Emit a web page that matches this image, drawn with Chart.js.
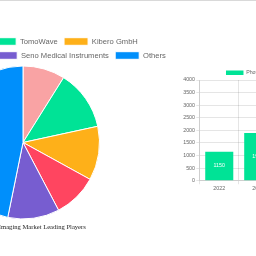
<!DOCTYPE html>
<html>
<head>
<meta charset="utf-8">
<script src="https://cdn.jsdelivr.net/npm/chart.js@4/dist/chart.umd.min.js"></script>
<style>
  html, body { margin: 0; padding: 0; background: #fff; width: 256px; height: 256px; overflow: hidden; position: relative; }
  #topline { position: absolute; left: 0; top: 0; width: 256px; height: 1px; background: #d9d9d9; }
  #pieWrap { position: absolute; left: -142px; top: 0; width: 330px; height: 240px; }
  #barWrap { position: absolute; left: 180px; top: 40px; width: 100px; height: 160px; }
</style>
</head>
<body>
<div id="topline"></div>
<div id="pieWrap"><canvas id="pie" width="330" height="240"></canvas></div>
<div id="barWrap"><canvas id="bar" width="100" height="160"></canvas></div>
<script>
// ---- pie data ----
const playerNames = ["iThera Medical", "TomoWave", "Kibero GmbH", "FUJIFILM VisualSonics", "Seno Medical Instruments", "Others"];
const playerShares = [8.9, 12.7, 11.4, 9.3, 10.9, 46.8];
const playerColors = ["#F9A3A4", "#00E396", "#FEB019", "#FF4560", "#775DD0", "#008FFB"];
const pieTitle = "Photoacoustic Imaging Market Leading Players";

// ---- bar data ----
const years = ["2022", "2023"];
const marketSize = [1150, 1900];
const barLabel = "Photoacoustic Imaging Market Size (Million)";
const yTicksMax = 4000;
const yTicksStep = 500;

Chart.defaults.animation = false;
Chart.defaults.font.family = "'Liberation Sans', Arial, sans-serif";

new Chart(document.getElementById('pie'), {
  type: 'pie',
  data: {
    labels: playerNames,
    datasets: [{ data: playerShares, backgroundColor: playerColors, borderColor: '#fff', borderWidth: 1 }]
  },
  options: {
    responsive: false,
    radius: 76.5,
    layout: { padding: { top: 31.3 } },
    plugins: {
      legend: {
        position: 'top',
        maxHeight: 34.5,
        labels: { boxWidth: 24, boxHeight: 7.6, padding: 6.4, color: '#666', font: { size: 7.6 } }
      },
      title: {
        display: true,
        text: pieTitle,
        position: 'bottom',
        color: '#222',
        padding: { top: 3.85, bottom: 9.05 },
        font: { family: "'Liberation Serif', 'Times New Roman', serif", size: 6.6, weight: 'normal' }
      },
      tooltip: { enabled: false }
    }
  }
});

const barValueLabels = {
  id: 'barValueLabels',
  afterDatasetsDraw(chart) {
    const ctx = chart.ctx;
    const meta = chart.getDatasetMeta(0);
    ctx.save();
    ctx.fillStyle = '#fff';
    ctx.font = "5.3px 'Liberation Sans', Arial, sans-serif";
    ctx.textAlign = 'center';
    ctx.textBaseline = 'middle';
    meta.data.forEach((el, i) => {
      const v = chart.data.datasets[0].data[i];
      if (v == null) return;
      ctx.fillText(String(v), el.x, (el.y + el.base) / 2);
    });
    ctx.restore();
  }
};

new Chart(document.getElementById('bar'), {
  type: 'bar',
  data: {
    labels: years,
    datasets: [{ label: barLabel, data: marketSize, backgroundColor: '#00E396' }]
  },
  options: {
    responsive: false,
    layout: { padding: { left: 1.9, top: 3.95, right: 2.3, bottom: 6.8 } },
    plugins: {
      legend: {
        position: 'top',
        align: 'start',
        fullSize: false,
        maxHeight: 36.05,
        labels: { boxWidth: 17.5, boxHeight: 4.6, padding: 26.2, color: '#666', font: { size: 5.3 } }
      },
      tooltip: { enabled: false }
    },
    scales: {
      y: {
        min: 0, max: yTicksMax,
        ticks: { stepSize: yTicksStep, font: { size: 5.3 }, padding: 1.3, color: '#666', callback: (v) => String(v) },
        grid: { tickLength: 3.5, color: 'rgba(0,0,0,0.1)' }
      },
      x: {
        ticks: { font: { size: 5.3 }, padding: 1.3, color: '#666' },
        grid: { tickLength: 3.5, color: 'rgba(0,0,0,0.1)' }
      }
    }
  },
  plugins: [barValueLabels]
});
</script>
</body>
</html>
